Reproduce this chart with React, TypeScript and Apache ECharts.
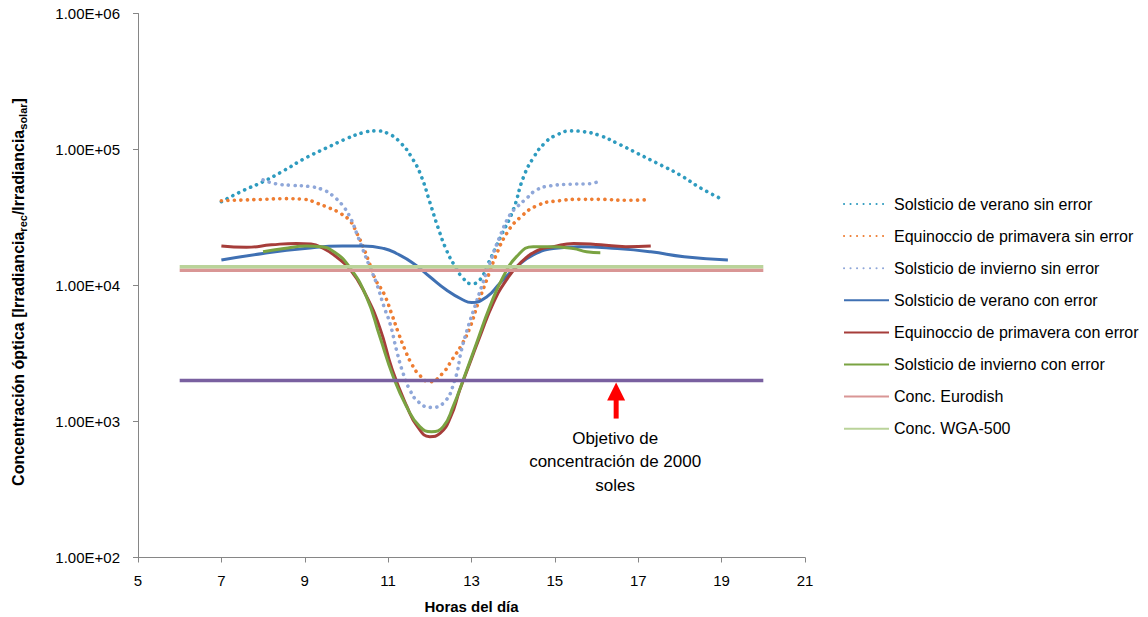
import React, { useEffect, useRef } from "react";
import * as echarts from "echarts";

// ---- Data ----
const legendNames = [
  "Solsticio de verano sin error",
  "Equinoccio de primavera sin error",
  "Solsticio de invierno sin error",
  "Solsticio de verano con error",
  "Equinoccio de primavera con error",
  "Solsticio de invierno con error",
  "Conc. Eurodish",
  "Conc. WGA-500",
];

const veranoSinHours = [7, 7.5, 8, 8.5, 9, 9.5, 10, 10.4, 10.7, 11, 11.3, 11.6, 11.8, 12, 12.2, 12.4, 12.6, 12.8, 13, 13.2, 13.4, 13.7, 14, 14.25, 14.5, 14.75, 15, 15.4, 15.7, 16.1, 16.5, 17, 17.5, 18, 18.5, 19.05];
const veranoSinValues = [41300, 49500, 58000, 70000, 86000, 102000, 120000, 133000, 137000, 131000, 112000, 84000, 63000, 41000, 26500, 18200, 13900, 11300, 10300, 11000, 14500, 22900, 35900, 63000, 88500, 111000, 126000, 137000, 135000, 126000, 111000, 93000, 78000, 65000, 52000, 42500];

const equinoccioSinHours = [7, 7.5, 8, 8.5, 9, 9.3, 9.6, 9.85, 10.1, 10.25, 10.4, 10.55, 10.7, 10.9, 11.1, 11.25, 11.4, 11.55, 11.75, 12, 12.3, 12.55, 12.75, 12.95, 13.15, 13.35, 13.6, 13.85, 14.15, 14.6, 15.1, 15.6, 16.1, 16.7, 17.25];
const equinoccioSinValues = [42000, 42500, 43000, 43500, 43000, 40200, 37000, 34000, 29500, 24200, 19300, 14600, 11000, 8700, 6000, 4450, 3400, 2700, 2200, 1960, 2250, 2900, 3600, 4800, 7300, 10700, 17000, 24300, 31300, 39000, 42000, 43000, 43000, 42300, 42800];

const invernoSinHours = [8, 8.3, 8.7, 9.1, 9.45, 9.7, 9.93, 10.1, 10.25, 10.4, 10.56, 10.72, 10.9, 11.05, 11.2, 11.36, 11.52, 11.72, 12.02, 12.32, 12.6, 12.76, 12.92, 13.08, 13.24, 13.44, 13.68, 13.92, 14.1, 14.32, 14.56, 14.88, 15.36, 15.84, 16.03];
const invernoSinValues = [59700, 56000, 54500, 53500, 50400, 45000, 38000, 31200, 24000, 18200, 13700, 10400, 7000, 5200, 3360, 2260, 1710, 1400, 1270, 1360, 2020, 3360, 4980, 6990, 9770, 14600, 22900, 33000, 38000, 43700, 50400, 54000, 55500, 56000, 58000];

const veranoConHours = [7, 8, 9, 9.9, 10.4, 10.9, 11.2, 11.6, 12, 12.4, 12.8, 13.0, 13.37, 13.68, 14.08, 14.48, 14.96, 15.6, 16.5, 17.3, 18.1, 19.15];
const veranoConValues = [15400, 17200, 18700, 19500, 19500, 18700, 17200, 14600, 11600, 9270, 7820, 7500, 8260, 10400, 13700, 16800, 18700, 19300, 18700, 17700, 16300, 15400];

const equinoccioConHours = [7, 7.6, 8.2, 8.8, 9.15, 9.45, 9.75, 10.1, 10.45, 10.8, 11.1, 11.45, 11.7, 12, 12.25, 12.5, 12.72, 12.96, 13.2, 13.52, 13.84, 14.17, 14.6, 14.96, 15.45, 16.1, 16.7, 17.3];
const equinoccioConValues = [19500, 19100, 19900, 20400, 20200, 18700, 16300, 13000, 8700, 4900, 2400, 1290, 920, 774, 820, 1080, 1710, 2680, 4210, 7400, 11000, 14600, 18200, 19300, 20400, 19900, 19300, 19500];

const invernoConHours = [8, 8.5, 9.05, 9.4, 9.7, 10.05, 10.48, 10.8, 11.12, 11.44, 11.76, 12.04, 12.32, 12.56, 12.8, 13.12, 13.44, 13.76, 14.08, 14.48, 14.88, 15.44, 15.76, 16.09];
const invernoConValues = [17700, 18700, 19500, 19300, 17700, 14000, 8260, 4210, 2140, 1290, 917, 841, 917, 1290, 2020, 3760, 6990, 11600, 16300, 19300, 19300, 18700, 17700, 17400];

const refHours = [6, 20];
const eurodishValues = [12950, 12950];
const wgaValues = [13750, 13750];
const objetivoValues = [2000, 2000];

const xTicks = { min: 5, max: 21, interval: 2 };
const yRange = { min: 100, max: 1000000 };
const arrowAt = [16.47, 2000];

const FONT = "'Liberation Sans', Arial, sans-serif";

function pairs(h: number[], v: number[]) {
  return h.map((x, i) => [x, v[i]]);
}

function fmtExp(v: number) {
  const e = Math.round(Math.log10(v));
  const m = v / Math.pow(10, e);
  return m.toFixed(2) + "E+" + (e < 10 ? "0" + e : String(e));
}

export default function App() {
  const ref = useRef<HTMLDivElement>(null);
  useEffect(() => {
    if (!ref.current) return;
    const chart = echarts.init(ref.current, null, { renderer: "svg" });
    const dotted = (color: string) => ({
      color,
      width: 3.6,
      type: [0.1, 6.4] as any,
      cap: "round" as any,
    });
    const solid = (color: string, w = 3) => ({ color, width: w, type: "solid" as any });
    const mk = (name: string, data: number[][], lineStyle: any, smooth: any = 0.5) => ({
      name,
      type: "line",
      data,
      smooth,
      showSymbol: false,
      symbol: "none",
      lineStyle,
      itemStyle: { color: lineStyle.color },
      emphasis: { disabled: true },
    });
    const option: any = {
      animation: false,
      backgroundColor: "#ffffff",
      grid: {
        left: 138,
        right: 343,
        top: 13.5,
        bottom: 59.5,
        containLabel: false,
        outerBoundsMode: "none",
      },
      legend: {
        data: legendNames,
        orient: "vertical",
        left: 838,
        top: 189,
        itemWidth: 45,
        itemHeight: 14,
        itemGap: 12.1,
        itemStyle: { opacity: 0 },
        textStyle: { fontFamily: FONT, fontSize: 16, color: "#000", lineHeight: 20 },
        selectedMode: false,
      },
      xAxis: {
        type: "value",
        min: xTicks.min,
        max: xTicks.max,
        interval: xTicks.interval,
        name: "Horas del día",
        nameLocation: "middle",
        nameGap: 41,
        nameTextStyle: { fontFamily: FONT, fontSize: 15, fontWeight: "bold", color: "#000" },
        axisLine: { lineStyle: { color: "#868686", width: 1 } },
        axisTick: { show: true, length: 5, lineStyle: { color: "#868686" } },
        axisLabel: { fontFamily: FONT, fontSize: 15, color: "#000", margin: 15 },
        splitLine: { show: false },
      },
      yAxis: {
        type: "log",
        logBase: 10,
        min: yRange.min,
        max: yRange.max,
        axisLine: { show: true, lineStyle: { color: "#868686", width: 1 } },
        axisTick: { show: true, length: 5, lineStyle: { color: "#868686" } },
        axisLabel: {
          fontFamily: FONT,
          fontSize: 15,
          color: "#000",
          margin: 18,
          formatter: (v: number) => fmtExp(v),
        },
        splitLine: { show: false },
        minorTick: { show: false },
      },
      series: [
        mk(legendNames[0], pairs(veranoSinHours, veranoSinValues), dotted("#2E9BBF")),
        mk(legendNames[1], pairs(equinoccioSinHours, equinoccioSinValues), dotted("#EE7D32")),
        mk(legendNames[2], pairs(invernoSinHours, invernoSinValues), dotted("#8FA7D9")),
        mk(legendNames[3], pairs(veranoConHours, veranoConValues), solid("#3F70B3")),
        mk(legendNames[4], pairs(equinoccioConHours, equinoccioConValues), solid("#A63D3A")),
        mk(legendNames[5], pairs(invernoConHours, invernoConValues), solid("#7AA342")),
        mk(legendNames[6], pairs(refHours, eurodishValues), solid("#D99695", 3.5), false),
        mk(legendNames[7], pairs(refHours, wgaValues), solid("#BAD39A", 3.5), false),
        mk("Objetivo", pairs(refHours, objetivoValues), solid("#7960A0", 3.5), false),
      ],
    };
    chart.setOption(option);
    const p = chart.convertToPixel({ gridIndex: 0 }, arrowAt) as number[];
    const ax = p[0];
    const ay = p[1] + 2;
    chart.setOption({
      graphic: [
        {
          type: "text",
          x: 18,
          y: 292,
          rotation: Math.PI / 2,
          style: {
            text: "{a|Concentración óptica [Irradiancia}{s|rec}{a|/Irradiancia}{s|solar}{a|]}",
            align: "center",
            verticalAlign: "middle",
            rich: {
              a: { fontFamily: FONT, fontSize: 16, fontWeight: "bold", fill: "#000", lineHeight: 20 },
              s: {
                fontFamily: FONT,
                fontSize: 11,
                fontWeight: "bold",
                fill: "#000",
                lineHeight: 11,
                verticalAlign: "bottom",
              },
            },
          },
        },
        {
          type: "polygon",
          shape: { points: [[ax, ay], [ax - 9, ay + 18], [ax + 9, ay + 18]] },
          style: { fill: "#FF0000" },
          z: 100,
        },
        {
          type: "rect",
          shape: { x: ax - 2.5, y: ay + 16, width: 5, height: 20 },
          style: { fill: "#FF0000" },
          z: 100,
        },
        {
          type: "text",
          x: ax - 1,
          y: ay + 44,
          style: {
            text: "Objetivo de\nconcentración de 2000\nsoles",
            fontFamily: FONT,
            fontSize: 17,
            fill: "#000",
            align: "center",
            verticalAlign: "top",
            lineHeight: 23.5,
          },
          z: 100,
        },
      ],
    });
    return () => chart.dispose();
  }, []);
  return (
    <div
      ref={ref}
      style={{ position: "fixed", left: 0, top: 0, width: 1148, height: 617, background: "#fff" }}
    />
  );
}
